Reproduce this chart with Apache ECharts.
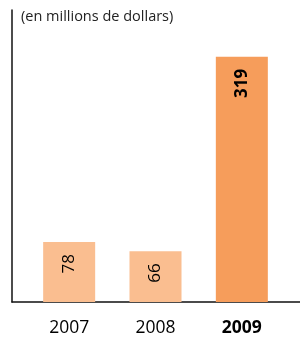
<!DOCTYPE html>
<html>
<head>
<meta charset="utf-8">
<script src="https://cdn.jsdelivr.net/npm/echarts@6/dist/echarts.min.js"></script>
<style>
  html, body { margin: 0; padding: 0; background: #fff; }
  #chart { width: 300px; height: 337px; }
</style>
</head>
<body>
<div id="chart"></div>
<script>
// données (en millions de dollars)
var years = ["2007", "2008", "2009"];
var values = [78, 66, 319];
var highlight = [false, false, true];

var chart = echarts.init(document.getElementById("chart"));

var barData = values.map(function (v, i) {
  return {
    value: v,
    itemStyle: { color: highlight[i] ? "#F69D5B" : "#FABE90" },
    label: { fontWeight: highlight[i] ? "bold" : "normal" }
  };
});

var catData = years.map(function (y, i) {
  return { value: y, textStyle: { fontWeight: highlight[i] ? "bold" : "normal" } };
});

var option = {
  animation: false,
  textStyle: { fontFamily: "Open Sans" },
  graphic: [{
    type: "text",
    left: 21,
    top: 9,
    style: { text: "(en millions de dollars)", fontSize: 14.5, fill: "#222", fontFamily: "Open Sans" }
  }],
  grid: [
    { left: 12, right: 0, top: 10, bottom: 35 },
    { left: 26, right: 15, top: 10, bottom: 35 }
  ],
  xAxis: [
    {
      gridIndex: 0, type: "value", min: 0, max: 1,
      axisLine: { show: true, lineStyle: { color: "#111", width: 1.5 } },
      axisTick: { show: false }, axisLabel: { show: false }, splitLine: { show: false }
    },
    {
      gridIndex: 1, type: "category", data: catData,
      axisLine: { show: false }, axisTick: { show: false },
      axisLabel: { fontSize: 17.5, color: "#000", margin: 17 }
    }
  ],
  yAxis: [
    {
      gridIndex: 0, type: "value", min: 0, max: 1,
      axisLine: { show: true, lineStyle: { color: "#111", width: 1.5 } },
      axisTick: { show: false }, axisLabel: { show: false }, splitLine: { show: false }
    },
    {
      gridIndex: 1, type: "value", min: 0, max: 380, show: false, splitLine: { show: false }
    }
  ],
  series: [{
    type: "bar",
    xAxisIndex: 1,
    yAxisIndex: 1,
    barWidth: 52,
    data: barData,
    label: {
      show: true,
      position: "insideTop",
      distance: 12,
      rotate: 90,
      align: "right",
      verticalAlign: "middle",
      fontSize: 17,
      color: "#000"
    }
  }]
};

chart.setOption(option);
</script>
</body>
</html>
